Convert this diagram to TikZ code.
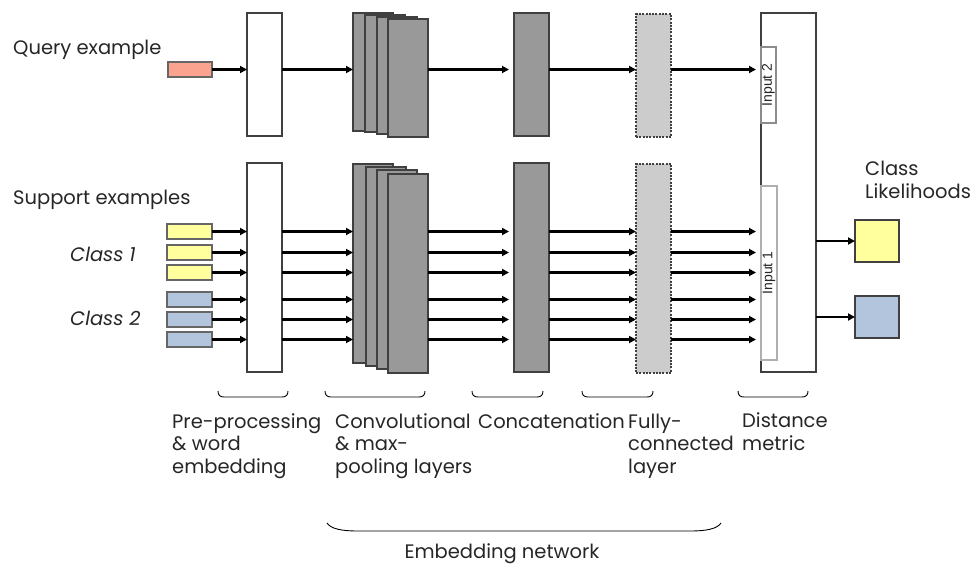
\documentclass[tikz,border=0pt]{standalone}
\usepackage{fontspec}
\setmainfont{Poppins}
\newfontfamily\inputfont{Liberation Sans}
\usetikzlibrary{arrows.meta}
\definecolor{qcol}{HTML}{FBA38E}
\definecolor{ycol}{HTML}{FFFF9E}
\definecolor{bcol}{HTML}{B2C5DD}
\definecolor{darkfill}{HTML}{999999}
\definecolor{lightfill}{HTML}{CCCCCC}
\definecolor{edge}{HTML}{404040}
\definecolor{inedge}{HTML}{8C8C8C}
\definecolor{txt}{HTML}{262626}
\begin{document}
\begin{tikzpicture}[x=1pt,y=-1pt,
  blk/.style={draw=edge, line width=1.3pt, anchor=north west, inner sep=0pt, outer sep=0pt},
  layer/.style={blk, fill=white},
  conv/.style={blk, fill=darkfill},
  fcl/.style={blk, fill=lightfill, dash pattern=on 2pt off 1.3pt},
  inbox/.style={blk, draw=inedge, fill=white},
  sample/.style={blk, draw=edge!80, minimum width=45pt, minimum height=15pt},
  outsq/.style={blk, minimum width=44pt, minimum height=42pt},
  flow/.style={line width=2.6pt, -{Triangle[length=7pt,width=7pt]}},
  lbl/.style={font=\fontsize{19.5}{22.5}\selectfont, text=txt, inner sep=0pt, align=left},
  inlbl/.style={font=\inputfont\fontsize{14}{14}\selectfont, text=txt, rotate=90, inner sep=0pt},
  brk/.style={line width=0.9pt, black}
]
\useasboundingbox (0,0) rectangle (979,563);

% ---------- query branch ----------
\node[sample, fill=qcol, minimum width=44pt] (q) at (168,62) {};
\node[layer, minimum width=35pt, minimum height=123pt] (qpre) at (247,13) {};
\node[conv, minimum width=40pt, minimum height=118pt] (qc1) at (353,13) {};
\node[conv, minimum width=40pt, minimum height=117pt] (qc2) at (365,15) {};
\node[conv, minimum width=40pt, minimum height=117pt] (qc3) at (377,17) {};
\node[conv, minimum width=40pt, minimum height=118pt] (qc4) at (388,19) {};
\node[conv, minimum width=35pt, minimum height=123pt] (qcat) at (514,13) {};
\node[fcl, minimum width=35pt, minimum height=123pt] (qfc) at (636,14) {};

% ---------- support branch ----------
\node[sample, fill=ycol] (y1) at (167,224) {};
\node[sample, fill=ycol] (y2) at (167,245) {};
\node[sample, fill=ycol] (y3) at (167,265) {};
\node[sample, fill=bcol] (b1) at (167,292) {};
\node[sample, fill=bcol] (b2) at (167,312) {};
\node[sample, fill=bcol] (b3) at (167,332) {};
\node[layer, minimum width=35pt, minimum height=209pt] (spre) at (247,163) {};
\node[conv, minimum width=40pt, minimum height=199pt] (sc1) at (353,164) {};
\node[conv, minimum width=40pt, minimum height=199pt] (sc2) at (366,167) {};
\node[conv, minimum width=40pt, minimum height=199pt] (sc3) at (377,170) {};
\node[conv, minimum width=40pt, minimum height=199pt] (sc4) at (388,174) {};
\node[conv, minimum width=35pt, minimum height=209pt] (scat) at (514,163) {};
\node[fcl, minimum width=35pt, minimum height=209pt] (sfc) at (636,164) {};

% ---------- distance metric ----------
\node[layer, minimum width=55pt, minimum height=359pt] (dist) at (761,13) {};
\node[inbox, minimum width=15pt, minimum height=76pt] (in2) at (761,47) {};
\node[inlbl] at (in2.center) {Input 2};
\node[inbox, draw=inedge!70, minimum width=16pt, minimum height=174pt] (in1) at (761,186) {};
\node[inlbl] at (in1.center) {Input 1};

% ---------- class likelihoods ----------
\node[outsq, fill=ycol] (oy) at (855,220) {};
\node[outsq, fill=bcol] (ob) at (855,296) {};

% ---------- connectors ----------
\draw[flow] (q.east) -- (qpre.west |- q.east);
\draw[flow] (qpre.east |- q.east) -- (qc1.west |- q.east);
\draw[flow, shorten >=5pt] (qc4.east |- q.east) -- (qcat.west |- q.east);
\draw[flow] (qcat.east |- q.east) -- (qfc.west |- q.east);
\draw[flow, shorten >=5pt] (qfc.east |- q.east) -- (dist.west |- q.east);
\foreach \r in {y1,y2,y3,b1,b2,b3}{
  \draw[flow] (\r.east) -- (spre.west |- \r.east);
  \draw[flow] (spre.east |- \r.east) -- (sc1.west |- \r.east);
  \draw[flow, shorten >=5pt] (sc4.east |- \r.east) -- (scat.west |- \r.east);
  \draw[flow] (scat.east |- \r.east) -- (sfc.west |- \r.east);
  \draw[flow, shorten >=5pt] (sfc.east |- \r.east) -- (dist.west |- \r.east);
}
\draw[flow] (dist.east |- oy.west) -- (oy.west);
\draw[flow] (dist.east |- ob.west) -- (ob.west);

% ---------- side texts (base anchor = baseline of the last line) ----------
\node[lbl, anchor=base west] (tq) at (13,54) {Query example};
\node[lbl, anchor=base west] (ts) at (13,204) {Support examples};
\node[lbl, anchor=base west, font=\fontsize{19.5}{22.5}\selectfont\itshape] (tc1) at (70,261) {Class 1};
\node[lbl, anchor=base west, font=\fontsize{19.5}{22.5}\selectfont\itshape] (tc2) at (70,325) {Class 2};
\node[lbl, anchor=base west] (tcl) at (865,198) {Class\\Likelihoods};

% ---------- stage braces ----------
\foreach \a/\b in {218/288, 325/425, 472/543, 582/653, 738/808}{
  \draw[brk] (\a,391) .. controls (\a,395) and (\a+2,397) .. (\a+6,397)
    -- (\b-6,397) .. controls (\b-2,397) and (\b,395) .. (\b,391);
}
\draw[brk] (327,523) .. controls (331,529) and (342,531) .. (358,531)
  -- (690,531) .. controls (706,531) and (717,529) .. (721,523);

% ---------- stage labels ----------
\node[lbl, anchor=base west] (l1) at (172,473) {Pre-processing\\\& word\\embedding};
\node[lbl, anchor=base west] (l2) at (335,473) {Convolutional\\\& max-\\pooling layers};
\node[lbl, anchor=base west] (l3) at (478,428) {Concatenation};
\node[lbl, anchor=base west] (l4) at (628,473) {Fully-\\connected\\layer};
\node[lbl, anchor=base west] (l5) at (742,450) {Distance\\metric};
\node[lbl, anchor=base] (l6) at (502,558) {Embedding network};
\end{tikzpicture}
\end{document}
